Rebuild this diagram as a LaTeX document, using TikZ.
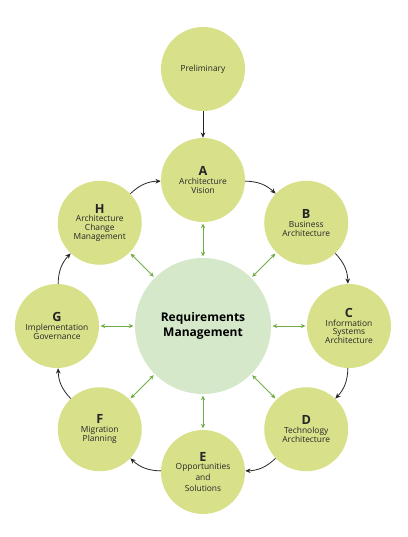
\documentclass[tikz,border=0pt]{standalone}
\usepackage{fontspec}
\setmainfont{Open Sans}
\usetikzlibrary{arrows.meta}
\definecolor{outerfill}{HTML}{D9E08A}
\definecolor{centerfill}{HTML}{D5E8C9}
\definecolor{linkgreen}{HTML}{70AD47}
\newcommand{\phaseletter}[1]{{\fontsize{9.5}{10.5}\selectfont\bfseries #1}}
\begin{document}
\begin{tikzpicture}[x=0.75pt,y=0.75pt,
  phase/.style={circle, fill=outerfill, minimum size=63pt, inner sep=0pt,
    align=center, font=\fontsize{6.3}{6.6}\selectfont, text=black!85},
  hub/.style={circle, fill=centerfill, minimum size=102pt, inner sep=0pt,
    align=center, font=\fontsize{9}{11}\selectfont\bfseries},
  cyclearrow/.style={-{Stealth[length=4pt,width=3.5pt]}, line width=0.6pt, black!85},
  link/.style={{Stealth[length=3.5pt,width=3.2pt]}-{Stealth[length=3.5pt,width=3.2pt]},
    line width=0.6pt, linkgreen, shorten >=1pt, shorten <=1pt}]
\useasboundingbox (-203,-211) rectangle (205,326);

\node[hub] (rm) at (0,0) {Requirements\\Management};
\node[phase] (pre) at (0,257) {Preliminary};
\node[phase] (A) at (90:146) {\phaseletter{A}\\Architecture\\Vision};
\node[phase] (B) at (45:146) {\phaseletter{B}\\Business\\Architecture};
\node[phase] (C) at (0:146) {\phaseletter{C}\\Information\\Systems\\Architecture};
\node[phase] (D) at (-45:146) {\phaseletter{D}\\Technology\\Architecture};
\node[phase] (E) at (-90:146) {\phaseletter{E}\\Opportunities\\[1.6pt]and\\[1.6pt]Solutions};
\node[phase] (F) at (-135:146) {\phaseletter{F}\\Migration\\Planning};
\node[phase] (G) at (180:146) {\phaseletter{G}\\Implementation\\Governance};
\node[phase] (H) at (135:146) {\phaseletter{H}\\Architecture\\Change\\Management};

\draw[cyclearrow] (pre) -- (A);
\draw[cyclearrow] (A) to[bend left=21] (B);
\draw[cyclearrow] (B) to[bend left=21] (C);
\draw[cyclearrow] (C) to[bend left=21] (D);
\draw[cyclearrow] (D) to[bend left=21] (E);
\draw[cyclearrow] (E) to[bend left=21] (F);
\draw[cyclearrow] (F) to[bend left=21] (G);
\draw[cyclearrow] (G) to[bend left=21] (H);
\draw[cyclearrow] (H) to[bend left=21] (A);

\foreach \n in {A,B,C,D,E,F,G,H}
  \draw[link] (rm) -- (\n);
\end{tikzpicture}
\end{document}
